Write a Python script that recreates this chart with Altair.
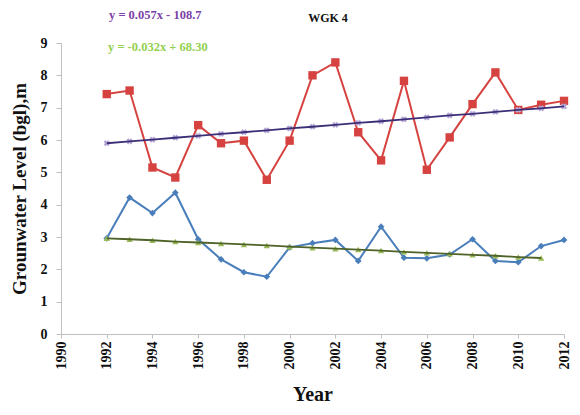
import altair as alt
import pandas as pd

years = list(range(1992, 2013))
red_vals = [7.42, 7.53, 5.15, 4.84, 6.46, 5.90, 5.98, 4.77, 5.98, 8.00, 8.40,
            6.24, 5.37, 7.83, 5.08, 6.08, 7.11, 8.09, 6.93, 7.09, 7.21]
blue_vals = [2.96, 4.22, 3.74, 4.37, 2.93, 2.31, 1.91, 1.77, 2.68, 2.81, 2.91,
             2.26, 3.32, 2.36, 2.34, 2.46, 2.93, 2.26, 2.22, 2.72, 2.91]
red_trend = [5.90, 5.96, 6.01, 6.07, 6.13, 6.19, 6.24, 6.30, 6.36, 6.41, 6.47,
             6.53, 6.58, 6.64, 6.70, 6.76, 6.81, 6.87, 6.93, 6.98, 7.04]
green_years = list(range(1992, 2012))
green_trend = [2.96, 2.93, 2.90, 2.86, 2.83, 2.80, 2.77, 2.74, 2.70, 2.67,
               2.64, 2.61, 2.58, 2.54, 2.51, 2.48, 2.45, 2.42, 2.38, 2.35]
x_ticks = list(range(1990, 2013, 2))
y_ticks = list(range(0, 10))

title_text = "WGK 4"
eq_red = "y = 0.057x - 108.7"
eq_green = "y = -0.032x + 68.30"

FONT = "Liberation Serif"

df_red = pd.DataFrame({"Year": years, "v": red_vals})
df_blue = pd.DataFrame({"Year": years, "v": blue_vals})
df_rt = pd.DataFrame({"Year": years, "v": red_trend})
df_gt = pd.DataFrame({"Year": green_years, "v": green_trend})

xs = alt.Scale(domain=[1990, 2012], nice=False, zero=False)
ys = alt.Scale(domain=[0, 9], nice=False)

X = alt.X("Year:Q", scale=xs, axis=alt.Axis(
    values=x_ticks, format="d", labelAngle=-90, title="Year", grid=False,
    labelFont=FONT, labelFontWeight="bold", labelFontSize=14, labelColor="#111",
    titleFont=FONT, titleFontWeight="bold", titleFontSize=20, titleColor="#111",
    titlePadding=15, domainColor="#BFBFBF", tickColor="#BFBFBF", tickSize=4,
    labelPadding=3))
Y = alt.Y("v:Q", scale=ys, axis=alt.Axis(
    values=y_ticks, title="Grounwater Level (bgl),m", grid=False,
    labelFont=FONT, labelFontWeight="bold", labelFontSize=14, labelColor="#111",
    titleFont=FONT, titleFontWeight="bold", titleFontSize=19, titleColor="#111",
    titlePadding=11, domainColor="#BFBFBF", tickColor="#BFBFBF", tickSize=5,
    labelPadding=9))

red_line = alt.Chart(df_red).mark_line(color="#D5423F", strokeWidth=2).encode(x=X, y=Y)
red_pts = alt.Chart(df_red).mark_point(shape="square", filled=True, size=70,
                                       color="#D5423F", opacity=1).encode(x=X, y=Y)
blue_line = alt.Chart(df_blue).mark_line(color="#4A7EBB", strokeWidth=2).encode(x=X, y=Y)
blue_pts = alt.Chart(df_blue).mark_point(shape="diamond", filled=True, size=45,
                                         color="#4A7EBB", opacity=1).encode(x=X, y=Y)
rt_pts = alt.Chart(df_rt).mark_point(shape="cross", angle=45, filled=True, size=40,
                                     color="#B7A8D6", opacity=1).encode(x=X, y=Y)
rt_line = alt.Chart(df_rt).mark_line(color="#3B2F78", strokeWidth=1.8).encode(x=X, y=Y)
gt_pts = alt.Chart(df_gt).mark_point(shape="triangle-up", filled=True, size=40,
                                     color="#9BBB59", opacity=1).encode(x=X, y=Y)
gt_line = alt.Chart(df_gt).mark_line(color="#4F6228", strokeWidth=1.8).encode(x=X, y=Y)

title_mark = alt.Chart(pd.DataFrame({"t": [title_text]})).mark_text(
    font=FONT, fontWeight="bold", fontSize=12, color="#111", align="center"
).encode(text="t:N", x=alt.value(267), y=alt.value(-25))
eq1 = alt.Chart(pd.DataFrame({"t": [eq_red]})).mark_text(
    font=FONT, fontWeight="bold", fontSize=12.5, color="#7B3FA8", align="left"
).encode(text="t:N", x=alt.value(48), y=alt.value(-28))
eq2 = alt.Chart(pd.DataFrame({"t": [eq_green]})).mark_text(
    font=FONT, fontWeight="bold", fontSize=12.5, color="#92D050", align="left"
).encode(text="t:N", x=alt.value(47), y=alt.value(4))

chart = alt.layer(
    red_line, red_pts, blue_line, blue_pts, rt_pts, rt_line, gt_pts, gt_line,
    title_mark, eq1, eq2
).properties(
    width=503, height=291,
    autosize=alt.AutoSizeParams(type="none"),
    padding={"left": 53, "top": 35, "right": 8, "bottom": 72},
    background="white"
).configure_view(stroke=None)

chart.save("out.html", embed_options={"renderer": "svg", "actions": False})
